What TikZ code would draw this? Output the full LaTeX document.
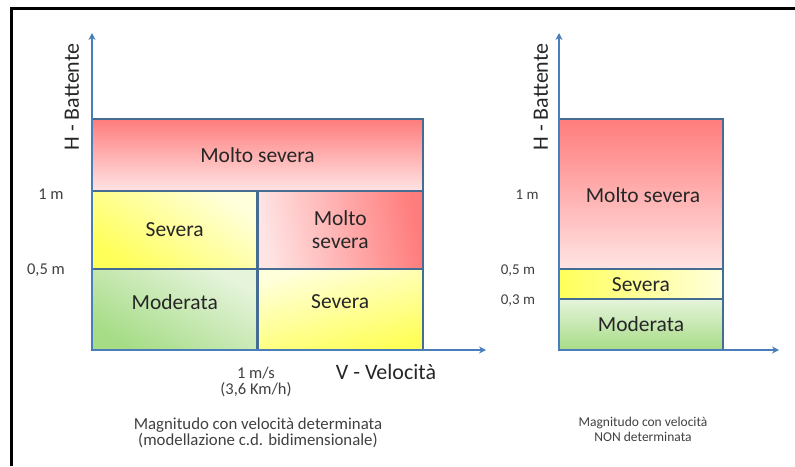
\documentclass[tikz,border=0pt]{standalone}
\usepackage{fontspec}
\setmainfont{Carlito}
\usetikzlibrary{arrows.meta}
\definecolor{axisblue}{HTML}{4A7EBB}
\definecolor{cellline}{HTML}{456C93}
\definecolor{redD}{HTML}{FF7C7C}
\definecolor{redL}{HTML}{FFE4E4}
\definecolor{yelD}{HTML}{FFFF5A}
\definecolor{yelL}{HTML}{FFFFDC}
\definecolor{grnD}{HTML}{A6DC86}
\definecolor{grnL}{HTML}{E6F4DC}
\definecolor{txt}{HTML}{262626}
\definecolor{lbl}{HTML}{404040}
\tikzset{
  cell/.style={draw=cellline, line width=2.4pt, inner sep=0pt, rectangle},
  axisline/.style={draw=axisblue, line width=2.2pt, -{Stealth[length=7pt,width=7pt]}},
  celltext/.style={text=txt, font=\fontsize{21.5}{25}\selectfont, align=center},
  axtitle/.style={text=txt, font=\fontsize{22}{24}\selectfont},
  ticklbl/.style={text=lbl, font=\fontsize{16.5}{18}\selectfont},
  ticklblR/.style={text=lbl, font=\fontsize{15}{16}\selectfont},
  capL/.style={text=lbl, font=\fontsize{16.8}{16}\selectfont},
  capR/.style={text=lbl, font=\fontsize{13.5}{14}\selectfont},
}
\begin{document}
\begin{tikzpicture}[x=1pt,y=-1pt]
\useasboundingbox (0,0) rectangle (795,466);
% frame
\draw[line width=3pt, black] (11,466) -- (11,8.5) -- (795,8.5);

% ---------- left chart ----------
\coordinate (O1) at (92,350);
\coordinate (Y1) at (92,33);
\coordinate (X1) at (486,350);
\node[cell, minimum width=331pt, minimum height=72pt, top color=redD, bottom color=redL] (ms1) at (257.5,155) {};
\node[cell, minimum width=165.5pt, minimum height=78pt, top color=yelL, bottom color=yelD, shading angle=-35] (sv1) at (174.75,230) {};
\node[cell, minimum width=165.5pt, minimum height=78pt, left color=redL, right color=redD, shading angle=100] (ms2) at (340.25,230) {};
\node[cell, minimum width=165.5pt, minimum height=81pt, top color=grnL, bottom color=grnD, shading angle=-30] (md1) at (174.75,309.5) {};
\node[cell, minimum width=165.5pt, minimum height=81pt, top color=yelL, bottom color=yelD, shading angle=15] (sv2) at (340.25,309.5) {};
\draw[axisline] (O1) -- (Y1);
\draw[axisline] (O1) -- (X1);

\node[celltext] (t1) at (257.5,155) {Molto severa};
\node[celltext] (t2) at (174.75,230) {Severa};
\node[celltext] (t3) at (340.25,230) {Molto\\[-2pt]severa};
\node[celltext] (t4) at (174.75,302) {Moderata};
\node[celltext] (t5) at (340.25,302) {Severa};

\node[axtitle, rotate=90] (h1) at (72,97) {H - Battente};
\node[axtitle] (v1) at (386,372) {V - Velocità};
\node[ticklbl] (l1) at (51,194) {1 m};
\node[ticklbl] (l2) at (46,270) {0,5 m};
\node[ticklbl] (l3) at (256,373) {1 m/s};
\node[ticklbl] (l4) at (256,390) {(3,6 Km/h)};
\node[capL] (c1) at (258,425) {Magnitudo con velocità determinata};
\node[capL] (c2) at (258,441) {(modellazione c.d. bidimensionale)};

% ---------- right chart ----------
\coordinate (O2) at (559,350);
\coordinate (Y2) at (559,33);
\coordinate (X2) at (779,350);
\node[cell, minimum width=164pt, minimum height=150pt, top color=redD, bottom color=redL] (rms) at (641,194) {};
\node[cell, minimum width=164pt, minimum height=30pt, left color=yelD, right color=yelL] (rsv) at (641,284) {};
\node[cell, minimum width=164pt, minimum height=51pt, top color=grnL, bottom color=grnD] (rmd) at (641,324.5) {};
\draw[axisline] (O2) -- (Y2);
\draw[axisline] (O2) -- (X2);

\node[celltext] (r1) at (643,195) {Molto severa};
\node[celltext] (r2) at (641,285) {Severa};
\node[celltext] (r3) at (641,324) {Moderata};

\node[axtitle, rotate=90] (h2) at (541,97) {H - Battente};
\node[ticklblR] (rl1) at (527,195) {1 m};
\node[ticklblR] (rl2) at (518,271) {0,5 m};
\node[ticklblR] (rl3) at (518,301) {0,3 m};
\node[capR] (rc1) at (643,423) {Magnitudo con velocità};
\node[capR] (rc2) at (643,437) {NON determinata};
\end{tikzpicture}
\end{document}
